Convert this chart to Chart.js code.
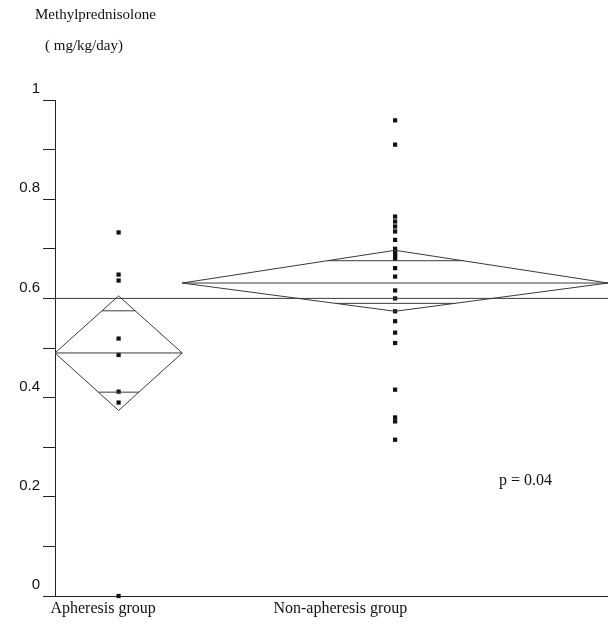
<!DOCTYPE html>
<html>
<head>
<meta charset="utf-8">
<title>Methylprednisolone</title>
<script src="https://cdn.jsdelivr.net/npm/chart.js@4.4.0/dist/chart.umd.min.js"></script>
<style>
  html, body { margin: 0; padding: 0; background: #fff; }
  #wrap { width: 608px; height: 624px; position: relative; }
</style>
</head>
<body>
<div id="wrap"><canvas id="mpChart"></canvas></div>
<script>
// group labels and share of the x axis (JMP style, width ~ sample size)
const groupLabels = ['Apheresis group', 'Non-apheresis group'];
const groupShares = [0.23, 0.77];

// individual doses (mg/kg/day)
const apheresisValues = [0.733, 0.648, 0.636, 0.519, 0.486, 0.412, 0.39, 0];
const nonApheresisValues = [
    0.959, 0.91, 0.765, 0.755, 0.745, 0.735, 0.718, 0.70,
    0.695, 0.69, 0.685, 0.68, 0.661, 0.644, 0.616, 0.60,
    0.574, 0.554, 0.531, 0.51, 0.416, 0.36, 0.352, 0.315
];

// means diamonds
const groupMeans = [0.49, 0.631];
const ciUpper = [0.605, 0.697];
const ciLower = [0.374, 0.574];
const overlapUpper = [0.575, 0.676];
const overlapLower = [0.411, 0.59];
const grandMean = 0.6;

const yLabelValues = [0, 0.2, 0.4, 0.6, 0.8, 1];
const pValueText = 'p = 0.04';

const lineColor = '#3a3a3a';
const starts = [];
let acc = 0;
groupShares.forEach(s => { starts.push(acc); acc += s; });
const centers = groupShares.map((s, i) => starts[i] + s / 2);

const datasets = [];

function lineSet(points, width) {
    return {
        type: 'scatter',
        data: points,
        showLine: true,
        borderColor: lineColor,
        borderWidth: width || 1,
        pointRadius: 0,
        tension: 0,
        clip: false
    };
}

// grand mean line
datasets.push(lineSet([{ x: 0, y: grandMean }, { x: 1, y: grandMean }], 1));

groupShares.forEach((share, i) => {
    const left = starts[i], right = starts[i] + share, c = centers[i], half = share / 2;
    datasets.push(lineSet([
        { x: left, y: groupMeans[i] },
        { x: c, y: ciUpper[i] },
        { x: right, y: groupMeans[i] },
        { x: c, y: ciLower[i] },
        { x: left, y: groupMeans[i] }
    ]));
    datasets.push(lineSet([{ x: left, y: groupMeans[i] }, { x: right, y: groupMeans[i] }]));
    const hu = half * (ciUpper[i] - overlapUpper[i]) / (ciUpper[i] - groupMeans[i]);
    const hl = half * (overlapLower[i] - ciLower[i]) / (groupMeans[i] - ciLower[i]);
    datasets.push(lineSet([{ x: c - hu, y: overlapUpper[i] }, { x: c + hu, y: overlapUpper[i] }]));
    datasets.push(lineSet([{ x: c - hl, y: overlapLower[i] }, { x: c + hl, y: overlapLower[i] }]));
});

[apheresisValues, nonApheresisValues].forEach((vals, i) => {
    datasets.push({
        type: 'scatter',
        data: vals.map(v => ({ x: centers[i], y: v })),
        pointStyle: 'rect',
        pointRadius: 3,
        backgroundColor: '#111',
        borderColor: '#111',
        borderWidth: 0,
        clip: false
    });
});

const textPlugin = {
    id: 'extraText',
    afterDraw(chart) {
        const ctx = chart.ctx;
        const xs = chart.scales.x, ys = chart.scales.y;
        ctx.save();
        ctx.fillStyle = '#111';
        ctx.textBaseline = 'middle';
        ctx.font = '15px "Liberation Serif", serif';
        ctx.fillText('Methylprednisolone', 35, 15);
        ctx.fillText('( mg/kg/day)', 45, 46);
        ctx.font = '16px "Liberation Serif", serif';
        ctx.fillText(pValueText, xs.getPixelForValue(0.803), ys.getPixelForValue(0.232));
        ctx.restore();
    }
};

new Chart(document.getElementById('mpChart'), {
    type: 'scatter',
    data: { datasets: datasets },
    plugins: [textPlugin],
    options: {
        responsive: true,
        maintainAspectRatio: false,
        animation: false,
        layout: { autoPadding: false, padding: { top: 100, right: 0, left: 0, bottom: 0 } },
        plugins: {
            legend: { display: false },
            tooltip: { enabled: false }
        },
        scales: {
            x: {
                type: 'linear',
                min: 0,
                max: 1,
                afterFit: s => { s.height = 28; },
                afterBuildTicks: s => { s.ticks = [{ value: 0.087 }, { value: 0.516 }]; },
                grid: { display: true, drawOnChartArea: false, drawTicks: false },
                border: { display: true, color: '#222', width: 1 },
                ticks: {
                    autoSkip: false,
                    maxRotation: 0,
                    padding: 3,
                    color: '#111',
                    font: { family: '"Liberation Serif", serif', size: 16 },
                    callback: (v, i) => groupLabels[i]
                }
            },
            y: {
                min: 0,
                max: 1,
                afterFit: s => { s.width = 55; },
                grid: { drawOnChartArea: false, drawTicks: true, tickLength: 12, color: '#222', lineWidth: 1 },
                border: { display: true, color: '#222', width: 1 },
                ticks: {
                    stepSize: 0.1,
                    autoSkip: false,
                    padding: 3,
                    labelOffset: -11,
                    color: '#111',
                    font: { family: '"Liberation Sans", Arial, sans-serif', size: 15 },
                    callback: v => {
                        const r = parseFloat(v.toFixed(1));
                        return yLabelValues.includes(r) ? String(r) : '';
                    }
                }
            }
        }
    }
});
</script>
</body>
</html>
